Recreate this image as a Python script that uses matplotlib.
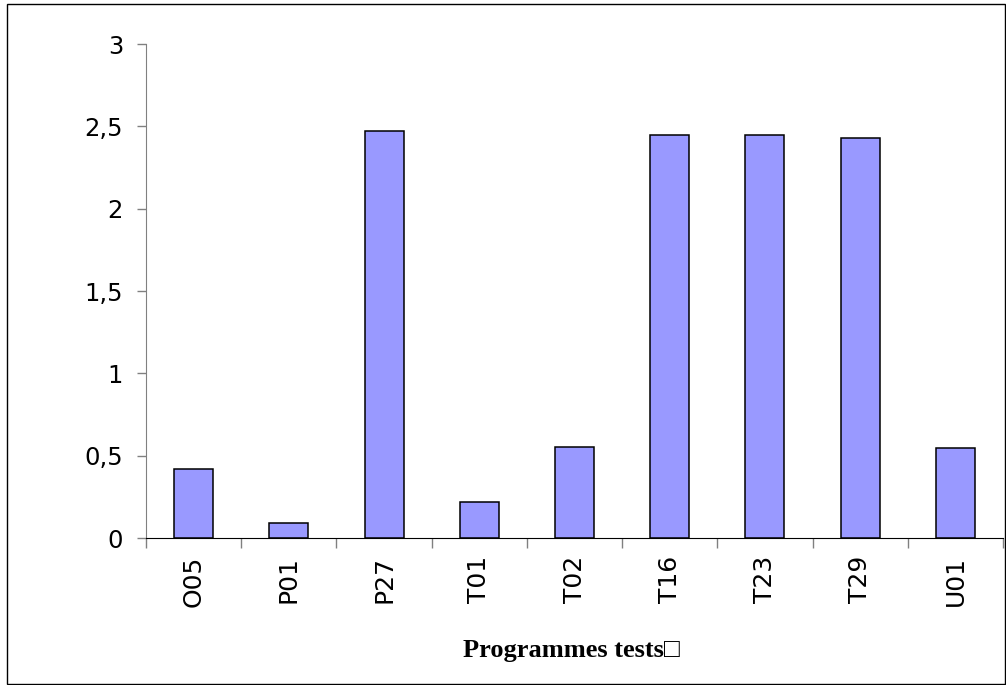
import numpy as np
import matplotlib
matplotlib.use("Agg")
import matplotlib.pyplot as plt
from matplotlib.patches import Rectangle
from matplotlib.ticker import FuncFormatter

# data
programmes = ["O05", "P01", "P27", "T01", "T02", "T16", "T23", "T29", "U01"]
valeurs = [0.42, 0.09, 2.47, 0.22, 0.555, 2.445, 2.45, 2.43, 0.545]
yticks = [0, 0.5, 1, 1.5, 2, 2.5, 3]

W, H = 1006, 685
fig = plt.figure(figsize=(W / 100, H / 100), dpi=100)
fig.patch.set_facecolor("white")

ax = fig.add_axes([146 / W, 1 - 538 / H, (1003 - 146) / W, (538 - 44) / H])

x = np.arange(len(programmes))
ax.bar(x, valeurs, width=0.41, color="#9999FF", edgecolor="black", linewidth=1.1)

ax.set_xlim(-0.5, len(programmes) - 0.5)
ax.set_ylim(0, 3)

for s in ["top", "right"]:
    ax.spines[s].set_visible(False)
ax.spines["left"].set_color("#808080")
ax.spines["bottom"].set_color("black")

# major x ticks between categories, labels on minor ticks at the centres
ax.set_xticks(np.arange(-0.5, len(programmes), 1))
ax.set_xticklabels([])
ax.set_xticks(x, minor=True)
ax.set_xticklabels(programmes, minor=True, rotation=90, fontsize=18,
                   family="DejaVu Sans")
ax.tick_params(axis="x", which="major", length=7.5, color="#808080", width=1)
ax.tick_params(axis="x", which="minor", length=0, pad=13)

ax.set_yticks(yticks)
ax.yaxis.set_major_formatter(FuncFormatter(lambda v, p: f"{v:g}".replace(".", ",")))
ax.tick_params(axis="y", length=6.5, color="#808080", width=1, pad=10,
               labelsize=17.5)
for lbl in ax.get_yticklabels():
    lbl.set_family("DejaVu Sans")

fig.text(571 / W, 1 - 650 / H, "Programmes tests\u25a1",
         family=["Liberation Serif", "DejaVu Sans"], fontweight="bold",
         fontsize=19, ha="center", va="center")

fig.add_artist(Rectangle((7 / W, 1 / H), 998 / W, 680 / H, transform=fig.transFigure,
                         fill=False, edgecolor="black", linewidth=1))

fig.savefig("out.png", dpi=100)
